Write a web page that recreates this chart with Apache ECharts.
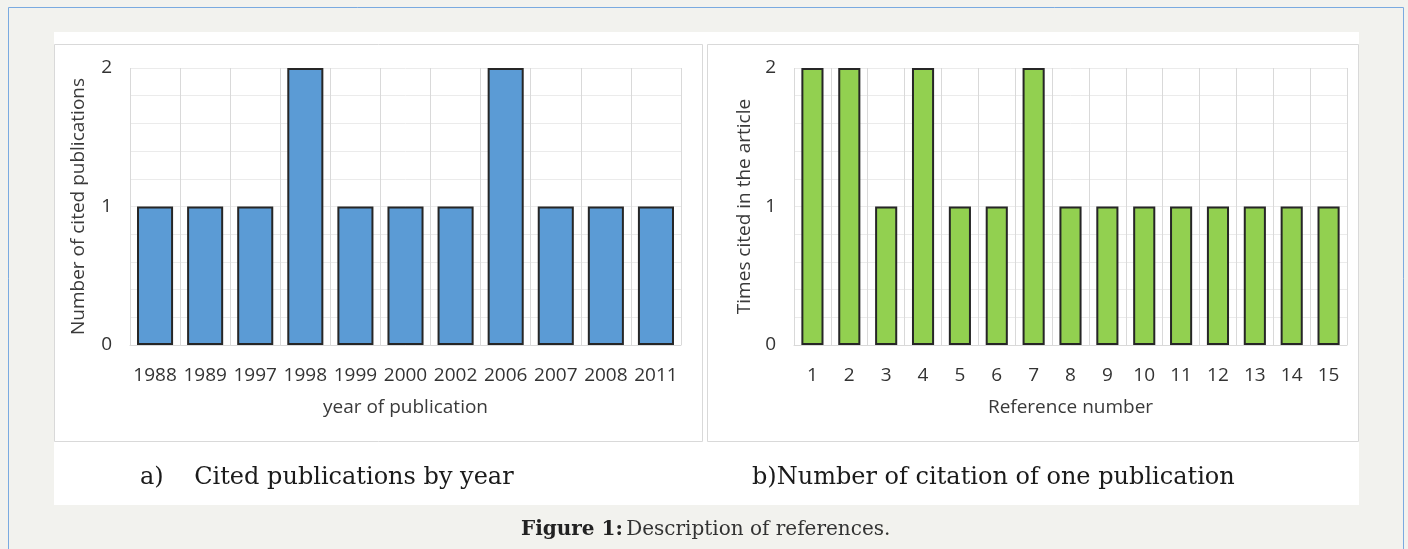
<!DOCTYPE html>
<html><head><meta charset="utf-8">
<script src="https://cdn.jsdelivr.net/npm/echarts@6/dist/echarts.min.js"></script>
<style>html,body{margin:0;padding:0;background:#f2f2ee}#c{width:1408px;height:549px}</style>
</head><body><div id="c"></div>
<script>
const yearCategories = ['1988','1989','1997','1998','1999','2000','2002','2006','2007','2008','2011'];
const yearCounts = [1,1,1,2,1,1,1,2,1,1,1];
const refCategories = ['1','2','3','4','5','6','7','8','9','10','11','12','13','14','15'];
const refCounts = [2,2,1,2,1,1,2,1,1,1,1,1,1,1,1];
const yTicks = [0,1,2];

const chart = echarts.init(document.getElementById('c'));
const axisFont = '"Open Sans", sans-serif';
const intFmt = v => (Math.abs(v - Math.round(v)) < 1e-6 && yTicks.includes(Math.round(v))) ? String(Math.round(v)) : '';

function yAx(gi, name, gap){
  return {
    gridIndex: gi, type:'value', min:0, max:2, interval:0.2,
    name:name, nameLocation:'middle', nameGap:gap, nameRotate:90,
    nameTextStyle:{fontFamily:axisFont,fontSize:19,color:'#3a3a3a'},
    axisLine:{show:false}, axisTick:{show:false},
    axisLabel:{formatter:intFmt, fontFamily:axisFont, fontSize:19, color:'#333', margin:18},
    splitLine:{show:true, lineStyle:{color:'#ebebeb', width:1}}
  };
}
function xAx(gi, cats, name){
  return {
    gridIndex: gi, type:'category', data:cats,
    name:name, nameLocation:'middle', nameGap:53,
    nameTextStyle:{fontFamily:axisFont,fontSize:19,color:'#3a3a3a'},
    axisLine:{show:true, lineStyle:{color:'#d9d9d9'}}, axisTick:{show:false},
    axisLabel:{fontFamily:axisFont, fontSize:19, color:'#333', margin:21, interval:0},
    splitLine:{show:true, interval:0, lineStyle:{color:'#d9d9d9', width:1}}
  };
}

chart.setOption({
  animation:false,
  backgroundColor:'#f2f2ee',
  graphic:[
    {type:'rect', shape:{x:8.5,y:7.5,width:1395,height:560}, style:{fill:'#f2f2ee', stroke:'#7aaae0', lineWidth:1}, z:-10},
    {type:'rect', shape:{x:54,y:32,width:1305,height:473}, style:{fill:'#ffffff'}, z:-9},
    {type:'rect', shape:{x:54.5,y:44.5,width:648,height:397}, style:{fill:'#ffffff', stroke:'#d9d9d9', lineWidth:1}, z:-8},
    {type:'rect', shape:{x:707.5,y:44.5,width:651,height:397}, style:{fill:'#ffffff', stroke:'#d9d9d9', lineWidth:1}, z:-8},
    {type:'text', left:140, top:466, style:{text:'a)    Cited publications by year', font:'24px "DejaVu Serif", serif', fill:'#1a1a1a'}},
    {type:'text', left:752, top:466, style:{text:'b)Number of citation of one publication', font:'24px "DejaVu Serif", serif', fill:'#1a1a1a'}},
    {type:'text', left:521, top:520, style:{rich:{b:{font:'bold 20px "DejaVu Serif", serif', fill:'#222'}, n:{font:'20px "DejaVu Serif", serif', fill:'#333'}}, text:'{b|Figure 1:} {n|Description of references.}'}}
  ],
  grid:[
    {left:130, top:68, width:551, height:277},
    {left:794, top:68, width:553, height:277}
  ],
  xAxis:[xAx(0, yearCategories, 'year of publication'), xAx(1, refCategories, 'Reference number')],
  yAxis:[yAx(0, 'Number of cited publications', 42), yAx(1, 'Times cited in the article', 40)],
  series:[
    {type:'bar', xAxisIndex:0, yAxisIndex:0, data:yearCounts, barCategoryGap:'28%',
     itemStyle:{color:'#5b9bd5', borderColor:'#262626', borderWidth:2}},
    {type:'bar', xAxisIndex:1, yAxisIndex:1, data:refCounts, barCategoryGap:'40%',
     itemStyle:{color:'#92d050', borderColor:'#262626', borderWidth:2}}
  ]
});
</script></body></html>
